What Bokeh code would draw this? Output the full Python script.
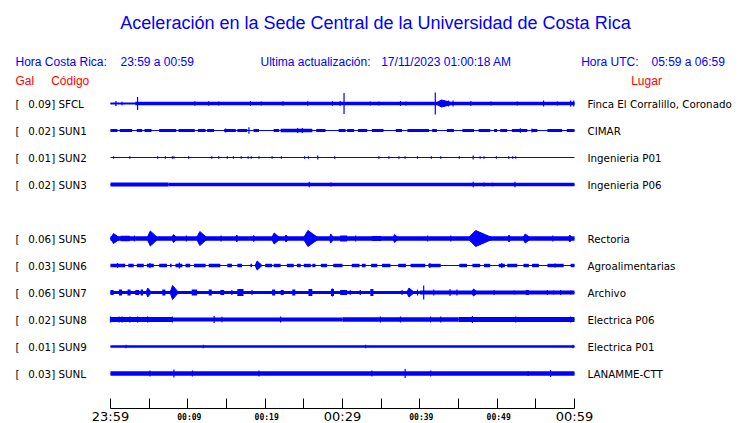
from bokeh.plotting import figure
from bokeh.models import Range1d, LinearAxis, FixedTicker, Label, ColumnDataSource
from bokeh.embed import file_html
from bokeh.resources import INLINE

# ---------------- data ----------------
CODES = ["SFCL", "SUN1", "SUN2", "SUN3", "SUN5", "SUN6", "SUN7", "SUN8", "SUN9", "SUNL"]
GAL = [0.09, 0.02, 0.01, 0.02, 0.06, 0.03, 0.06, 0.02, 0.01, 0.03]
PLACES = ["Finca El Corralillo, Coronado", "CIMAR", "Ingenieria P01", "Ingenieria P06",
          "Rectoria", "Agroalimentarias", "Archivo", "Electrica P06", "Electrica P01", "LANAMME-CTT"]
SLOTS = [0, 1, 2, 3, 5, 6, 7, 8, 9, 10]

# steady noise segments: (start minute, end minute, half amplitude)
SFCL_BURSTS = [(0, 3.2, 1.0), (3.2, 60, 1.7)]
SUN1_BURSTS = [(0, 0.9, 1.6), (1.2, 2.8, 1.6), (3.4, 4.1, 1.6), (4.4, 5.3, 1.6), (6.3, 8.5, 1.6),
               (8.8, 10.9, 1.6), (11.3, 12.3, 1.6), (12.5, 13.4, 1.6), (14.7, 16.2, 1.6),
               (16.4, 17.7, 1.6), (18.5, 19.2, 1.6), (21.1, 21.8, 1.6), (22.0, 26.1, 1.7),
               (26.6, 27.8, 1.4), (29.5, 30.4, 1.6), (30.6, 31.5, 1.6), (32.0, 33.2, 1.6),
               (33.8, 35.3, 1.6), (36.9, 37.7, 1.6), (38.4, 41.2, 1.6), (41.6, 42.2, 1.6),
               (43.5, 44.4, 1.6), (45.5, 47.0, 1.6), (47.6, 49.1, 1.6), (49.6, 50.0, 1.6),
               (50.4, 51.3, 1.6), (51.9, 53.9, 1.6), (54.5, 55.2, 1.6), (56.5, 58.4, 1.6),
               (59.0, 60.0, 1.6)]
SUN2_BURSTS = []
SUN3_BURSTS = [(0, 7.5, 1.9), (7.5, 60, 1.7)]
SUN5_BURSTS = [(0, 60, 2.2), (1.3, 2.5, 2.8), (29.7, 30.6, 3.0), (33.8, 35.0, 2.5)]
SUN6_BURSTS = [(0, 1.9, 1.7), (2.3, 3.0, 1.7), (3.4, 4.3, 1.7), (4.7, 5.6, 1.7), (6.3, 7.3, 1.7),
               (7.7, 7.9, 1.7), (8.4, 9.3, 1.7), (9.7, 10.3, 1.7), (10.8, 12.3, 1.7),
               (12.7, 14.2, 1.7), (15.1, 15.7, 1.7), (16.4, 17.0, 1.7), (18.1, 18.3, 1.7),
               (20.0, 20.9, 1.7), (21.1, 22.0, 1.7), (22.8, 23.7, 1.7),
               (24.1, 24.6, 1.7), (25.0, 25.9, 1.7), (26.1, 26.5, 1.7), (27.2, 28.0, 1.7),
               (28.8, 30.0, 1.7), (31.2, 32.2, 1.7), (32.5, 33.0, 1.7), (33.7, 34.5, 1.7),
               (35.1, 36.2, 1.7), (37.2, 38.2, 1.7), (38.8, 40.7, 1.7), (41.1, 42.7, 1.7),
               (45.1, 46.1, 1.7), (46.8, 47.8, 1.7), (48.3, 49.1, 1.7), (50.2, 51.0, 1.7),
               (51.3, 52.6, 1.7), (53.4, 54.1, 1.7), (54.5, 55.4, 1.7), (56.5, 58.6, 1.7),
               (59.5, 60.0, 1.7)]
SUN7_BURSTS = [(0, 40, 1.5), (40, 60, 2.0), (0, 0.4, 2.5), (1.1, 1.5, 3.0), (2.2, 2.6, 3.0),
               (3.2, 3.7, 2.5), (3.9, 4.2, 3.0), (6.7, 7.1, 3.0),
               (10.5, 11.2, 3.0), (12.7, 13.1, 3.0), (14.2, 14.7, 2.5), (16.4, 17.2, 3.5),
               (20.9, 21.3, 3.0), (22.0, 22.4, 2.5), (23.5, 23.9, 3.0), (25.6, 26.1, 3.5),
               (28.5, 28.9, 3.5), (29.7, 30.6, 2.5), (33.6, 34.0, 3.5), (53.7, 54.1, 2.5)]
SUN8_BURSTS = [(0, 8, 2.5), (8, 30, 2.1), (30, 45, 2.2), (45, 60, 2.4)]
SUN9_BURSTS = [(0, 60, 1.3)]
SUNL_BURSTS = [(0, 60, 2.3)]

# spindle-shaped events: (start minute, end minute, peak half amplitude)
SFCL_EVENTS = [(42.0, 44.6, 3.5)]
SUN1_EVENTS = []
SUN2_EVENTS = []
SUN3_EVENTS = []
SUN5_EVENTS = [(0, 1.3, 5.0), (4.7, 6.2, 7.5), (7.9, 8.7, 4.0), (11.1, 12.6, 7.0), (16.2, 16.6, 3.5),
               (18.4, 18.8, 3.0), (20.8, 22.0, 5.5), (22.5, 23.1, 3.5), (24.9, 27.0, 8.0),
               (28.3, 28.9, 4.5), (36.5, 37.3, 4.0), (46.2, 49.6, 8.0), (51.4, 51.8, 3.5),
               (53.3, 54.4, 4.5), (59.2, 59.8, 3.5)]
SUN6_EVENTS = [(18.7, 19.6, 4.5)]
SUN7_EVENTS = [(4.6, 5.3, 4.5), (7.7, 8.8, 7.0), (38.3, 39.3, 4.5), (46.7, 47.5, 3.5)]
SUN8_EVENTS = []
SUN9_EVENTS = []
SUNL_EVENTS = []

# isolated spikes: (minute, half amplitude)
SFCL_SPIKES = [(0.7, 2.5), (1.5, 1.8), (3.5, 6.5), (10.9, 2.3), (12.7, 2.3), (14.0, 2.0),
               (18.1, 2.3), (19.5, 2.0), (22.3, 2.3), (25.5, 2.3), (28.7, 2.3), (29.7, 2.5),
               (30.2, 10.5), (33.6, 2.0), (34.7, 2.0), (37.5, 2.5), (38.2, 2.0), (42.0, 11.0),
               (42.7, 3.5), (43.1, 3.5), (43.7, 3.0), (44.3, 3.0), (46.6, 2.5), (49.2, 2.0),
               (52.6, 2.0), (56.0, 3.0), (57.8, 2.0), (59.5, 3.0), (59.9, 3.0)]
SUN1_SPIKES = [(14.9, 2.0), (17.9, 3.2), (24.2, 2.5), (24.8, 2.5), (53.0, 2.2), (54.5, 2.0)]
SUN2_SPIKES = [(0.4, 1.3), (2.5, 1.3), (6.1, 1.3), (7.1, 1.3), (8.0, 1.3), (8.2, 1.3), (10.1, 1.3),
               (13.1, 1.3), (14.0, 1.3), (15.1, 1.3), (15.9, 1.3), (16.9, 1.3), (17.8, 1.3),
               (18.2, 1.3), (19.2, 1.3), (20.9, 1.3), (22.1, 1.3), (25.1, 1.3), (25.6, 1.3),
               (26.8, 2.0), (29.0, 1.3), (34.7, 1.3), (36.0, 1.3), (37.3, 1.3), (38.1, 1.3),
               (39.7, 1.3), (41.5, 1.3), (42.7, 1.3), (45.1, 1.3), (46.9, 2.0), (47.8, 1.3),
               (48.3, 1.3), (49.9, 1.3), (51.5, 1.3), (52.0, 1.3), (52.4, 1.3)]
SUN3_SPIKES = [(25.7, 2.7), (28.5, 2.0), (46.9, 2.7), (48.3, 2.0), (49.4, 1.8), (52.3, 2.7)]
SUN5_SPIKES = [(3.1, 3.0), (9.8, 3.0), (14.3, 3.0), (31.7, 3.0), (41.0, 3.0), (44.0, 3.0), (57.2, 3.0)]
SUN6_SPIKES = [(0.9, 2.5), (5.1, 2.5), (8.9, 3.0), (41.3, 2.5), (50.6, 2.5), (57.5, 2.0)]
SUN7_SPIKES = [(15.7, 2.5), (18.3, 2.5), (28.7, 4.0), (31.0, 2.5),
               (32.3, 2.5), (37.7, 2.5), (39.7, 3.0), (40.5, 7.0), (41.8, 3.0), (43.9, 3.5),
               (44.8, 3.0), (49.6, 2.5), (52.2, 2.0), (56.5, 2.5), (57.3, 2.0), (58.2, 2.5),
               (59.5, 2.0)]
SUN8_SPIKES = [(0.0, 3.0), (1.1, 3.0), (1.5, 3.0), (2.5, 3.0), (3.5, 3.0), (4.8, 3.0), (8.0, 3.0),
               (13.4, 3.5), (14.4, 2.8), (22.0, 3.0), (34.9, 3.0), (37.5, 3.0), (41.4, 3.0),
               (42.7, 3.0), (46.8, 3.5), (52.4, 3.0), (59.5, 3.0)]
SUN9_SPIKES = [(2.0, 1.8), (12.0, 1.8), (33.0, 1.8), (59.8, 1.8)]
SUNL_SPIKES = [(5.1, 3.0), (8.2, 4.0), (10.6, 3.0), (19.2, 3.0), (33.8, 3.0), (38.1, 4.5),
               (41.4, 3.0), (54.0, 2.5), (56.9, 3.5)]

BURSTS = [SFCL_BURSTS, SUN1_BURSTS, SUN2_BURSTS, SUN3_BURSTS, SUN5_BURSTS,
          SUN6_BURSTS, SUN7_BURSTS, SUN8_BURSTS, SUN9_BURSTS, SUNL_BURSTS]
EVENTS = [SFCL_EVENTS, SUN1_EVENTS, SUN2_EVENTS, SUN3_EVENTS, SUN5_EVENTS,
          SUN6_EVENTS, SUN7_EVENTS, SUN8_EVENTS, SUN9_EVENTS, SUNL_EVENTS]
SPIKES = [SFCL_SPIKES, SUN1_SPIKES, SUN2_SPIKES, SUN3_SPIKES, SUN5_SPIKES,
          SUN6_SPIKES, SUN7_SPIKES, SUN8_SPIKES, SUN9_SPIKES, SUNL_SPIKES]

TICKS = [0, 5, 10, 15, 20, 25, 30, 35, 40, 45, 50, 55, 60]
BIG_LABELS = {0: "23:59", 30: "00:29", 60: "00:59"}
SMALL_LABELS = {10: "00:09", 20: "00:19", 40: "00:39", 50: "00:49"}
DURATION = 60

TITLE = "Aceleración en la Sede Central de la Universidad de Costa Rica"
HORA_CR = "23:59 a 00:59"
UPDATED = "17/11/2023 01:00:18 AM"
HORA_UTC = "05:59 a 06:59"

BLUE = "#0000ff"
RED = "#ff0000"
ROW = 27
W, H = 740, 423

# ---------------- figure ----------------
p = figure(width=W, height=H,
           x_range=Range1d(-14.224, 81.466), y_range=Range1d(-320, 103),
           output_backend="svg", toolbar_location=None, min_border=0,
           x_axis_type=None, y_axis_type=None, outline_line_color=None)
p.background_fill_color = "white"
p.border_fill_color = "white"

ax = LinearAxis(ticker=FixedTicker(ticks=TICKS), bounds=(0, DURATION), fixed_location=-305,
                major_tick_in=10, major_tick_out=0, minor_tick_in=0, minor_tick_out=0,
                major_label_overrides={t: BIG_LABELS.get(t, "") for t in TICKS},
                major_label_text_font="DejaVu Sans", major_label_text_font_size="13px",
                major_label_text_color="black", major_label_standoff=0,
                axis_line_color="black", major_tick_line_color="black")
p.add_layout(ax, "below")

q = dict(left=[], right=[], bottom=[], top=[])
s = dict(x=[], y0=[], y1=[])
b = dict(x0=[], x1=[], y=[])
e = dict(xs=[], ys=[])
for slot, bursts, events, spikes in zip(SLOTS, BURSTS, EVENTS, SPIKES):
    base = -ROW * slot
    b["x0"].append(0); b["x1"].append(DURATION); b["y"].append(base)
    for t0, t1, a in bursts:
        q["left"].append(t0); q["right"].append(t1)
        q["bottom"].append(base - a); q["top"].append(base + a)
    for t0, t1, a in events:
        tp = t0 + 0.3 * (t1 - t0)
        e["xs"].append([t0, tp, t1, tp]); e["ys"].append([base, base + a, base, base - a])
    for t, a in spikes:
        s["x"].append(t); s["y0"].append(base - a); s["y1"].append(base + a)

p.segment(x0="x0", x1="x1", y0="y", y1="y", source=ColumnDataSource(b), line_color=BLUE, line_width=1)
p.quad(left="left", right="right", bottom="bottom", top="top", source=ColumnDataSource(q),
       fill_color=BLUE, line_color=None)
p.patches(xs="xs", ys="ys", source=ColumnDataSource(e), fill_color=BLUE, line_color=BLUE, line_width=1)
p.segment(x0="x", x1="x", y0="y0", y1="y1", source=ColumnDataSource(s), line_color=BLUE, line_width=1.2)

# small tick labels
for t, txt in SMALL_LABELS.items():
    p.add_layout(Label(x=t, x_units="data", y=6.5, y_units="screen", x_offset=1.5, text=txt,
                       text_align="center", text_baseline="middle", text_font="DejaVu Sans Mono",
                       text_font_style="bold", text_font_size="8px", text_color="black"))

def lab(x, y, text, color=BLUE, size="12px", font="Liberation Sans", align="left", y_units="screen"):
    p.add_layout(Label(x=x, x_units="screen", y=y, y_units=y_units, text=text, text_color=color,
                       text_font=font, text_font_size=size, text_align=align, text_baseline="middle"))

# header (screen units: x from left, y from bottom of the canvas)
lab(375, H - 22.5, TITLE, size="18px", align="center")
lab(15, H - 61, "Hora Costa Rica:")
lab(120, H - 61, HORA_CR)
lab(260, H - 61, "Ultima actualización:")
lab(380.7, H - 61, UPDATED)
lab(580.7, H - 61, "Hora UTC:")
lab(651, H - 61, HORA_UTC)
lab(15, H - 80.5, "Gal", color=RED)
lab(50.7, H - 80.5, "Código", color=RED)
lab(630.7, H - 80.5, "Lugar", color=RED)

# station labels
for slot, code, g, place in zip(SLOTS, CODES, GAL, PLACES):
    base = -ROW * slot
    lab(15, base, "[", color="black", size="10.3px", font="DejaVu Sans", y_units="data")
    lab(27.7, base, f"{g:.2f}] {code}", color="black", size="10.3px", font="DejaVu Sans", y_units="data")
    lab(587, base, place, color="black", size="10.3px", font="DejaVu Sans", y_units="data")

open("out.html", "w").write(file_html(p, INLINE))
